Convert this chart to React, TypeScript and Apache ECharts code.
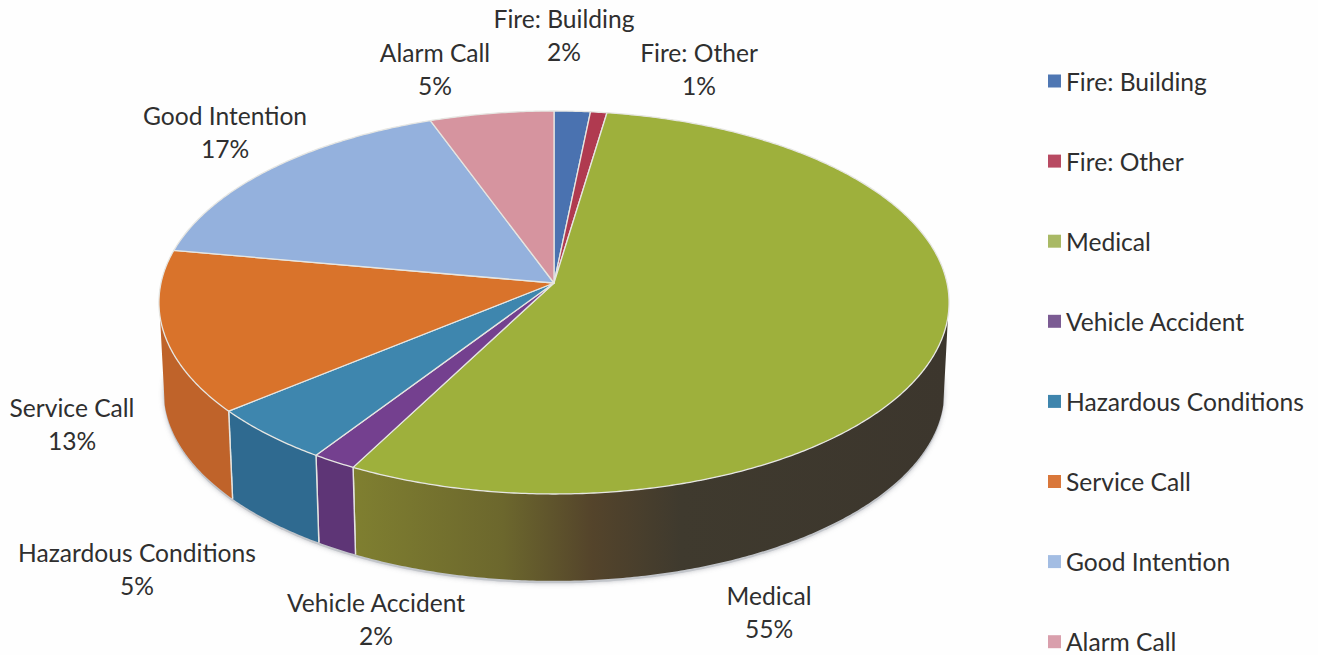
import React, { useEffect, useRef } from "react";
import * as echarts from "echarts";

const categories = ["Fire: Building", "Fire: Other", "Medical", "Vehicle Accident", "Hazardous Conditions", "Service Call", "Good Intention", "Alarm Call"];
const sliceShares = [1.63, 0.74, 55.33, 1.65, 4.75, 13.7, 16.6, 5.6];
const percentLabels = ["2%", "1%", "55%", "2%", "5%", "13%", "17%", "5%"];

const legendColors = ["#4f77b3", "#b84a62", "#a9b965", "#7b5b93", "#3f85ad", "#d9773a", "#a3bde3", "#d99fac"];
const topColors = ["#4a72b0", "#b03a50", "#9eb03c", "#74408f", "#3e86ae", "#d9732b", "#94b1dd", "#d6949f"];
const wallColors = ["#3d5f94", "#8f3042", "#7c7e2f", "#5e3576", "#2f6a90", "#bf632a", "#7d95bd", "#b57d87"];
const medicalWallStops = [
  { offset: 0, color: "#7f7f30" },
  { offset: 0.25, color: "#6c672d" },
  { offset: 0.4, color: "#54442b" },
  { offset: 0.55, color: "#3f3a2e" },
  { offset: 1, color: "#3c362d" },
];
const labelCentres = [[564, 35], [699, 69], [769, 612], [376, 619], [137, 569], [72, 424], [225, 132], [435, 69]];

const centreX = 554;
const centreY = 283;
const radiusX = 393;
const radiusY = 189.5;
const perspective = 0.1018;
const wallDrop = 89;
const wallShrink = 0.988;
const wallFrom = 100;
const wallTo = 260;

const total = sliceShares.reduce((a, b) => a + b, 0);
const startDegrees = sliceShares.map((_, i) => (sliceShares.slice(0, i).reduce((a, b) => a + b, 0) / total) * 360);

function project(deg: number, bottom: boolean): number[] {
  const t = (deg * Math.PI) / 180;
  const u = Math.sin(t);
  const v = -Math.cos(t);
  const w = 1 - perspective * v;
  const s = bottom ? wallShrink : 1;
  return [centreX + (radiusX * s * u) / w, centreY + (radiusY * (bottom ? 0.99 : 1) * v) / w + (bottom ? wallDrop : 0)];
}

function arc(from: number, to: number, bottom: boolean): number[][] {
  const n = Math.max(2, Math.ceil((to - from) / 0.5));
  const pts: number[][] = [];
  for (let i = 0; i <= n; i++) pts.push(project(from + ((to - from) * i) / n, bottom));
  return pts;
}

function sliceRender(index: number) {
  return (_params: any, api: any) => {
    const from = startDegrees[index];
    const to = from + (api.value(0) / total) * 360;
    const children: any[] = [];
    const wa = Math.max(from, wallFrom);
    const wb = Math.min(to, wallTo);
    if (wb > wa) {
      const fill = index === 2
        ? new echarts.graphic.LinearGradient(355, 0, 948, 0, medicalWallStops, true)
        : wallColors[index];
      children.push({
        type: "polygon",
        shape: { points: [...arc(wa, wb, false), ...arc(wa, wb, true).reverse()] },
        style: { fill },
      });
      if (from >= wallFrom && from <= wallTo) {
        const a = project(from, false);
        const b = project(from, true);
        children.push({ type: "line", shape: { x1: a[0], y1: a[1], x2: b[0], y2: b[1] }, style: { stroke: "#e4e4e0", lineWidth: 1.4 } });
      }
      if (to >= wallFrom && to <= wallTo) {
        const a = project(to, false);
        const b = project(to, true);
        children.push({ type: "line", shape: { x1: a[0], y1: a[1], x2: b[0], y2: b[1] }, style: { stroke: "#e4e4e0", lineWidth: 1.4 } });
      }
    }
    children.push({
      type: "polygon",
      shape: { points: [[centreX, centreY], ...arc(from, to, false)] },
      style: { fill: topColors[index], stroke: "#e6e6e2", lineWidth: 1.3, lineJoin: "round" },
    });
    children.push({
      type: "text",
      x: labelCentres[index][0],
      y: labelCentres[index][1],
      style: {
        text: `${categories[index]}\n${percentLabels[index]}`,
        fill: "#2f2f2f",
        fontFamily: "Lato",
        fontSize: 24.6,
        lineHeight: 33,
        textAlign: "center",
        textVerticalAlign: "middle",
      },
    });
    return { type: "group", children };
  };
}

function shadowRender() {
  const pts = arc(90, 270, true).map((p) => [p[0], p[1] + 2.5]);
  return {
    type: "polygon",
    shape: { points: pts },
    style: { fill: "#c2c5ca", shadowBlur: 5, shadowColor: "rgba(120,125,135,0.45)" },
  };
}

export default function App() {
  const ref = useRef<HTMLDivElement>(null);
  useEffect(() => {
    document.body.style.margin = "0";
    const chart = echarts.init(ref.current!, undefined, { renderer: "svg" });
    chart.setOption({
      animation: false,
      backgroundColor: "#fefefe",
      legend: {
        data: categories,
        orient: "vertical",
        left: 1048,
        top: 68,
        height: 640,
        padding: 0,
        itemWidth: 13,
        itemHeight: 13,
        itemGap: 54.1,
        icon: "rect",
        selectedMode: false,
        textStyle: { fontFamily: "Lato", fontSize: 24.6, color: "#2f2f2f", lineHeight: 26 },
      },
      series: [
        { type: "custom", name: "shadow", coordinateSystem: "none", silent: true, data: [[1]], renderItem: shadowRender },
        ...categories.map((name, i) => ({
          type: "custom",
          name,
          coordinateSystem: "none",
          silent: true,
          itemStyle: { color: legendColors[i] },
          data: [[sliceShares[i]]],
          renderItem: sliceRender(i),
        })),
      ],
    });
    return () => chart.dispose();
  }, []);
  return <div ref={ref} style={{ position: "absolute", left: 0, top: 0, width: 1318, height: 655 }} />;
}
